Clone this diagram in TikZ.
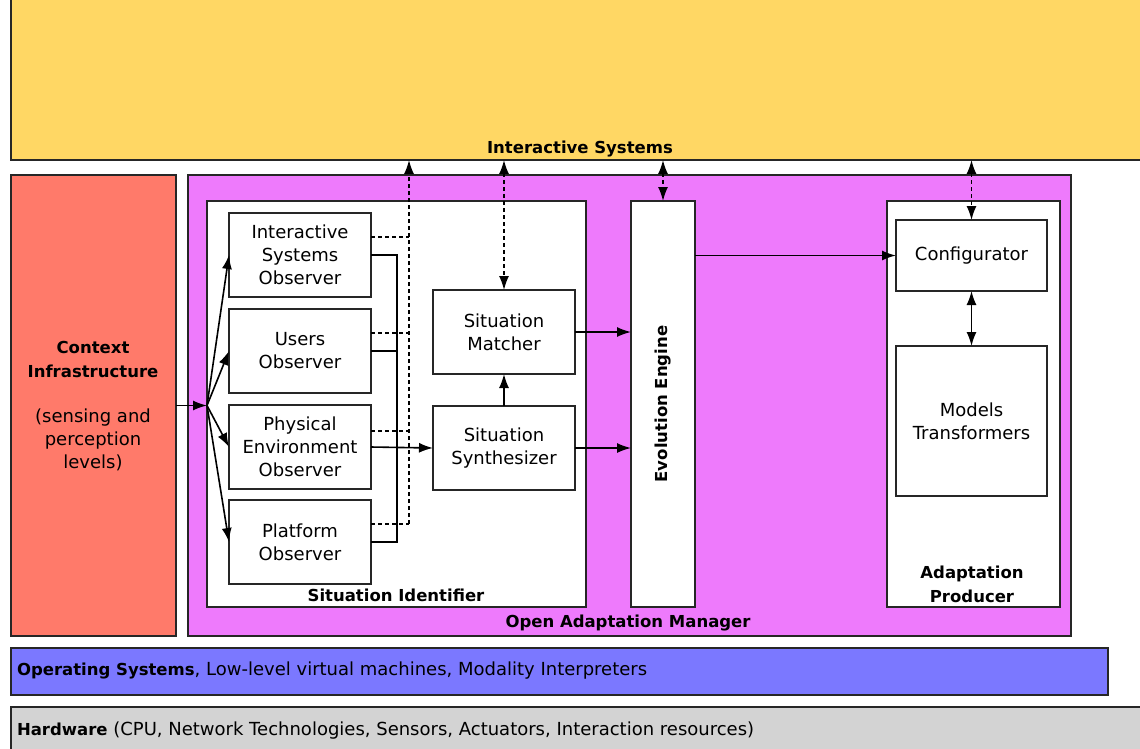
\documentclass[tikz,border=0pt]{standalone}
\usepackage{fontspec}
\setmainfont{DejaVu Sans}
\usetikzlibrary{arrows.meta,calc}
\definecolor{isyellow}{HTML}{FFD764}
\definecolor{ctxred}{HTML}{FF7A6A}
\definecolor{oammag}{HTML}{EE7AFC}
\definecolor{osblue}{HTML}{7B78FF}
\definecolor{hwgray}{HTML}{D3D3D3}
\tikzset{
  every node/.style={inner sep=0pt, outer sep=0pt},
  area/.style={draw=black!85, line width=1.8pt},
  blk/.style={draw=black!85, line width=1.8pt, fill=white, align=center,
    font=\fontsize{18}{23}\selectfont},
  ttl/.style={align=center, font=\fontsize{16.5}{24}\selectfont\bfseries},
  bttl/.style={font=\fontsize{16.5}{20}\selectfont\bfseries},
  txt/.style={align=center, font=\fontsize{18}{23}\selectfont},
  conn/.style={line width=1.6pt, -{Latex[length=14pt,width=10pt]}},
  dconn/.style={line width=1.6pt, {Latex[length=14pt,width=10pt]}-{Latex[length=14pt,width=10pt]}},
  dashln/.style={line width=1.5pt, dash pattern=on 4pt off 3pt},
}
\begin{document}
\begin{tikzpicture}[x=1pt,y=-1pt]
\useasboundingbox (0,0) rectangle (1140,748);
\clip (0,0) rectangle (1140,748);
% layers
\node[area, fill=isyellow, minimum width=1140, minimum height=170, anchor=south west] (is) at (11,160) {};
\node[bttl] (istxt) at (580,149.5) {Interactive Systems};
\node[area, fill=ctxred, minimum width=165, minimum height=461, anchor=north west] (ctx) at (11,175) {};
\node[ttl] (ctxt) at (93,359) {Context\\Infrastructure};
\node[txt] (ctxs) at (93,440) {(sensing and\\perception\\levels)};
\node[area, fill=oammag, minimum width=883, minimum height=461, anchor=north west] (oam) at (188,175) {};
\node[bttl] (oamtxt) at (628,623) {Open Adaptation Manager};
\node[area, fill=osblue, minimum width=1097, minimum height=47, anchor=north west] (os) at (11,648) {};
\node[anchor=west, font=\fontsize{18}{20}\selectfont] (ostxt) at (17,671) {{\fontsize{16.5}{20}\selectfont\bfseries Operating Systems}, Low-level virtual machines, Modality Interpreters};
\node[area, fill=hwgray, minimum width=1140, minimum height=60, anchor=north west] (hw) at (11,707) {};
\node[anchor=west, font=\fontsize{18}{20}\selectfont] (hwtxt) at (17,731) {{\fontsize{16.5}{20}\selectfont\bfseries Hardware} (CPU, Network Technologies, Sensors, Actuators, Interaction resources)};
% situation identifier
\node[blk, minimum width=379, minimum height=406, anchor=north west] (sid) at (207,201) {};
\node[bttl] (sidtxt) at (396,595) {Situation Identifier};
\node[blk, minimum width=142, minimum height=84] (iso) at (300,255) {Interactive\\Systems\\Observer};
\node[blk, minimum width=142, minimum height=84] (uso) at (300,351) {Users\\Observer};
\node[blk, minimum width=142, minimum height=84] (peo) at (300,447) {Physical\\Environment\\Observer};
\node[blk, minimum width=142, minimum height=84] (plo) at (300,542) {Platform\\Observer};
\node[blk, minimum width=142, minimum height=84] (sm) at (504,332) {Situation\\Matcher};
\node[blk, minimum width=142, minimum height=84] (ss) at (504,448) {Situation\\Synthesizer};
% evolution engine
\node[blk, minimum width=64, minimum height=406, anchor=north west] (ee) at (631,201) {};
\node[rotate=90, bttl] (eetxt) at (ee.center) {Evolution Engine};
% adaptation producer
\node[blk, minimum width=173, minimum height=406, anchor=north west] (ap) at (887,201) {};
\node[ttl] (aptxt) at (972,584) {Adaptation\\Producer};
\node[blk, minimum width=151, minimum height=71] (conf) at (971.5,255.5) {Configurator};
\node[blk, minimum width=151, minimum height=150] (mt) at (971.5,421) {Models\\Transformers};
% coordinates
\coordinate (fan) at (ctx.east -| sid.west);
\coordinate (busx) at (397,0);
\coordinate (dbx) at (409,0);
% context to observers
\draw[conn] (ctx.east) -- (fan);
\foreach \o in {iso,uso,peo,plo}{\draw[conn] (fan) -- (\o.west);}
% solid bus
\draw[line width=1.6pt] (iso.east) -- (iso.east -| busx) -- (plo.east -| busx) -- (plo.east);
\draw[line width=1.6pt] (uso.east) -- (uso.east -| busx);
\draw[conn] (peo.east) -- (ss.west);
% dashed bus
\coordinate (d1) at ($(iso.north east)+(0,24)$);
\coordinate (d2) at ($(uso.north east)+(0,24)$);
\coordinate (d3) at ($(peo.north east)+(0,26)$);
\coordinate (d4) at ($(plo.north east)+(0,24)$);
\foreach \d in {d1,d2,d3,d4}{\draw[dashln] (\d) -- (\d -| dbx);}
\draw[dashln, -{Latex[length=14pt,width=10pt]}] (d4 -| dbx) -- (dbx |- is.south);
% matcher / synthesizer
\draw[dconn, dash pattern=on 4pt off 3pt] (sm.north |- is.south) -- (sm.north);
\draw[conn] (ss.north) -- (sm.south);
\draw[conn] (sm.east) -- (sm.east -| ee.west);
\draw[conn] (ss.east) -- (ss.east -| ee.west);
% evolution engine
\draw[dconn, dash pattern=on 4pt off 3pt] (ee.north |- is.south) -- (ee.north);
\draw[conn] (conf.west -| ee.east) -- (conf.west);
% adaptation producer
\draw[dconn, dash pattern=on 4pt off 3pt] (conf.north |- is.south) -- (conf.north);
\draw[dconn] (conf.south) -- (mt.north);
\end{tikzpicture}
\end{document}
